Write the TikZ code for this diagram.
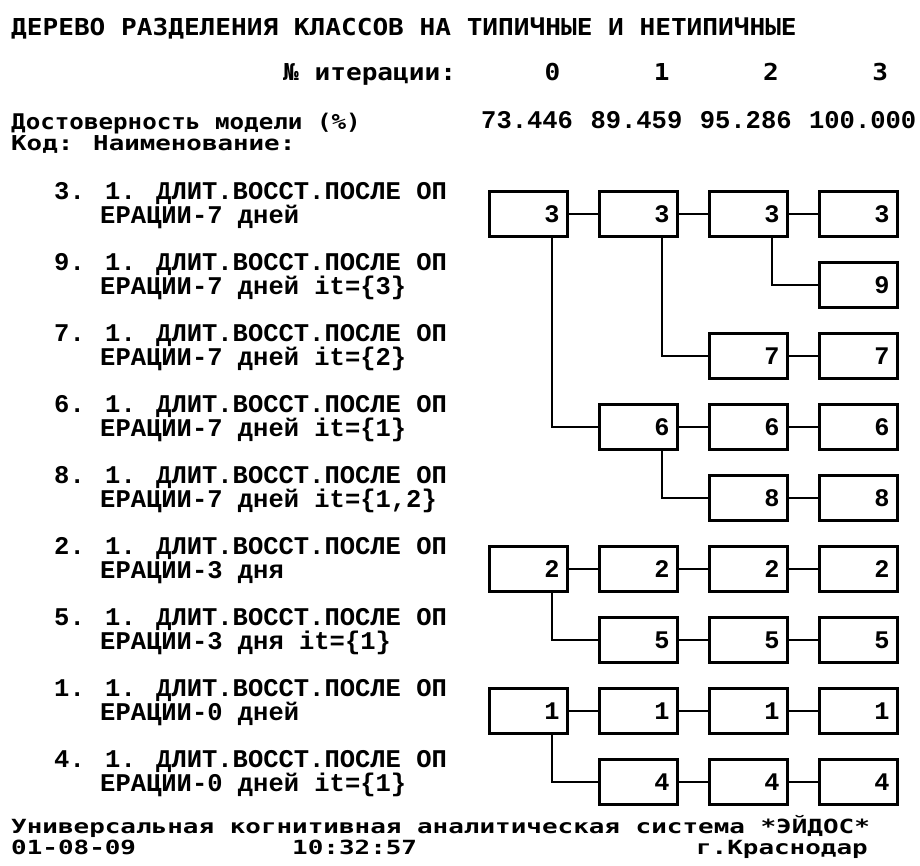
\documentclass[tikz,border=0pt]{standalone}
\usepackage{fontspec}
\usepackage{tikz}
\newfontfamily\headmono[FakeStretch=1.12]{DejaVu Sans Mono}
\newfontfamily\footmono[FakeStretch=1.26]{DejaVu Sans Mono}
\newfontfamily\lowmono[FakeStretch=1.33]{DejaVu Sans Mono}
\newfontfamily\codemono{Liberation Mono}

\begin{document}
\begin{tikzpicture}[x=1pt, y=-1pt,
    cell/.style={draw, line width=2.8pt, minimum width=78pt, minimum height=45pt,
        inner xsep=8pt, inner ysep=0pt, text width=62pt, align=right,
        font=\codemono\bfseries\fontsize{25.3}{26}\selectfont},
    link/.style={line width=1.8pt},
    headtext/.style={inner sep=0pt, anchor=base west, font=\headmono\bfseries\fontsize{23.3}{26}\selectfont},
    foottext/.style={inner sep=0pt, anchor=base west, font=\footmono\bfseries\fontsize{20.5}{22}\selectfont},
    lowtext/.style={inner sep=0pt, anchor=base west, font=\lowmono\bfseries\fontsize{19.5}{22}\selectfont},
    codetext/.style={inner sep=0pt, anchor=base west, font=\codemono\bfseries\fontsize{25.5}{26}\selectfont}]
    \useasboundingbox (0,0) rectangle (920,865);

    % Header
    \node[headtext] (title) at (11,35) {ДЕРЕВО РАЗДЕЛЕНИЯ КЛАССОВ НА ТИПИЧНЫЕ И НЕТИПИЧНЫЕ};
    \node[headtext] (iterlabel) at (283,80) {№ итерации:};
    \foreach \c in {0,...,3}
        \node[headtext, anchor=base] (iter\c) at (552.5+109.2*\c, 80) {\c};
    \node[foottext, font=\headmono\bfseries\fontsize{21.6}{26}\selectfont] (truth) at (11,129) {Достоверность модели (\%)};
    \foreach \c/\v in {0/73.446, 1/89.459, 2/95.286, 3/100.000}
        \node[codetext] (val\c) at (481+109.3*\c, 128) {\v};
    \node[foottext] (codehead) at (11,150) {Код:};
    \node[foottext] (namehead) at (93,150) {Наименование:};

    % Class labels
    \foreach \r/\k/\t in {0/3/{7 дней}, 1/9/{7 дней it=\{3\}}, 2/7/{7 дней it=\{2\}},
            3/6/{7 дней it=\{1\}}, 4/8/{7 дней it=\{1,2\}}, 5/2/{3 дня},
            6/5/{3 дня it=\{1\}}, 7/1/{0 дней}, 8/4/{0 дней it=\{1\}}} {
        \node[codetext] (name\r) at (54, 199+71*\r) {\k. 1. ДЛИТ.ВОССТ.ПОСЛЕ ОП};
        \node[codetext] (tail\r) at (100, 223+71*\r) {ЕРАЦИИ-\t};
    }

    % Boxes of the tree
    \foreach \r/\k/\c in {0/3/0, 1/9/3, 2/7/2, 3/6/1, 4/8/2, 5/2/0, 6/5/1, 7/1/0, 8/4/1}
        \foreach \j in {\c,...,3}
            \node[cell] (b\r\j) at (528.5+110*\j, 214+71*\r) {\k};

    % Links along a row
    \foreach \a/\b in {b00/b01, b01/b02, b02/b03, b22/b23, b31/b32, b32/b33, b42/b43,
            b50/b51, b51/b52, b52/b53, b61/b62, b62/b63, b70/b71, b71/b72, b72/b73,
            b81/b82, b82/b83}
        \draw[link] (\a.east) -- (\b.west);

    % Branches
    \foreach \p/\q in {b02/b13, b01/b22, b00/b31, b31/b42, b50/b61, b70/b81}
        \draw[link] ([xshift=23.5pt]\p.south) |- (\q.west);

    % Footer
    \node[lowtext] (system) at (11,833) {Универсальная когнитивная аналитическая система *ЭЙДОС*};
    \node[lowtext] (date) at (11,854) {01-08-09};
    \node[lowtext] (time) at (292,854) {10:32:57};
    \node[lowtext, anchor=base east] (city) at (868,854) {г.Краснодар};
\end{tikzpicture}
\end{document}
